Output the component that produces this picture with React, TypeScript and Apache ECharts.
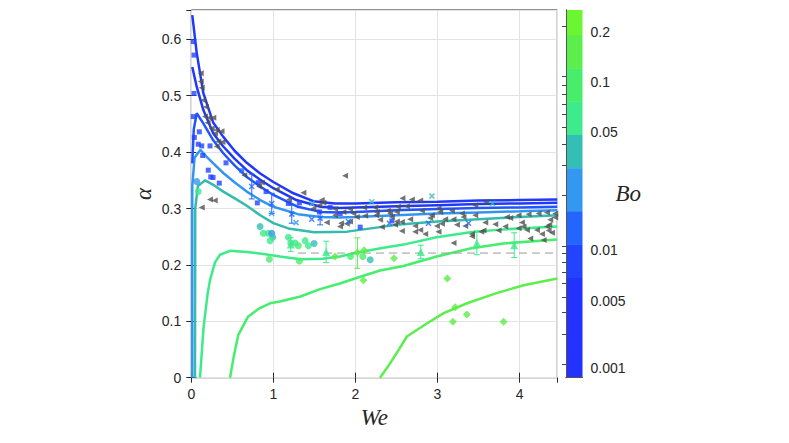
import React, { useEffect, useRef } from 'react';
import * as echarts from 'echarts';

// ---- model curves (We, alpha) ----
const curveA = [[0.012,0.643],[0.066,0.576],[0.146,0.505],[0.268,0.452],[0.39,0.427],[0.53,0.402],[0.676,0.381],[0.84,0.362],[1.0,0.347],[1.244,0.327],[1.488,0.313],[1.75,0.309],[2.0,0.309],[2.5,0.311],[3.0,0.312],[3.5,0.314],[4.0,0.315],[4.46,0.316]];
const curveB = [[0.012,0.551],[0.066,0.516],[0.146,0.475],[0.268,0.433],[0.39,0.41],[0.53,0.388],[0.676,0.368],[0.84,0.351],[1.0,0.336],[1.28,0.315],[1.573,0.303],[1.8,0.301],[2.0,0.302],[2.5,0.304],[3.0,0.306],[3.5,0.308],[4.0,0.309],[4.46,0.31]];
const curveC = [[0.012,0.38],[0.03,0.44],[0.066,0.469],[0.146,0.451],[0.268,0.421],[0.39,0.398],[0.53,0.376],[0.676,0.356],[0.84,0.339],[1.0,0.324],[1.3,0.303],[1.573,0.294],[1.8,0.293],[2.0,0.294],[2.5,0.297],[3.0,0.299],[3.5,0.301],[4.0,0.302],[4.46,0.303]];
const curveD = [[0.012,0],[0.012,0.34],[0.04,0.39],[0.11,0.404],[0.185,0.392],[0.268,0.38],[0.39,0.363],[0.53,0.346],[0.676,0.33],[0.84,0.315],[1.0,0.303],[1.3,0.29],[1.573,0.285],[1.8,0.284],[2.0,0.285],[2.5,0.288],[3.0,0.291],[3.5,0.293],[4.0,0.295],[4.46,0.297]];
const curveE = [[0.045,0],[0.048,0.3],[0.08,0.34],[0.17,0.35],[0.268,0.342],[0.39,0.33],[0.53,0.318],[0.676,0.305],[0.84,0.288],[1.0,0.274],[1.2,0.264],[1.5,0.258],[1.9,0.259],[2.3,0.267],[2.5,0.271],[3.0,0.277],[3.5,0.281],[4.0,0.285],[4.46,0.288]];
const curveG1 = [[0.106,0],[0.15,0.09],[0.2,0.15],[0.228,0.173],[0.29,0.205],[0.35,0.218],[0.472,0.225],[0.675,0.223],[0.9,0.219],[1.08,0.215],[1.33,0.21],[1.6,0.211],[1.81,0.215],[2.0,0.221],[2.29,0.229],[2.585,0.236],[2.99,0.249],[3.4,0.258],[3.8,0.263],[4.46,0.268]];
const curveG2 = [[0.472,0],[0.52,0.04],[0.573,0.076],[0.69,0.108],[0.83,0.123],[0.96,0.132],[1.08,0.135],[1.33,0.144],[1.57,0.157],[1.81,0.167],[2.06,0.179],[2.3,0.19],[2.585,0.198],[2.99,0.215],[3.4,0.229],[3.8,0.238],[4.46,0.245]];
const curveG3 = [[2.3,0],[2.42,0.025],[2.525,0.049],[2.627,0.073],[2.87,0.096],[3.07,0.114],[3.36,0.132],[3.72,0.15],[4.05,0.164],[4.46,0.176]];
const dashedRef = [[1.3,0.221],[4.46,0.221]];

// ---- experimental points ----
const grayTriangles = [[0.115,0.54],[0.115,0.525],[0.127,0.514],[0.146,0.492],[0.179,0.48],[0.167,0.463],[0.216,0.461],[0.268,0.461],[0.198,0.452],[0.249,0.442],[0.31,0.439],[0.368,0.437],[0.289,0.433],[0.329,0.419],[0.38,0.418],[0.31,0.41],[0.228,0.316],[0.285,0.314],[0.127,0.302],[0.646,0.359],[0.859,0.346],[0.826,0.339],[1.041,0.334],[1.366,0.328],[1.874,0.358],[1.191,0.316],[1.59,0.315],[1.61,0.31],[1.561,0.306],[1.488,0.3],[1.752,0.299],[1.854,0.294],[1.935,0.299],[1.976,0.291],[1.752,0.288],[1.651,0.275],[1.826,0.274],[1.895,0.273],[1.935,0.277],[1.813,0.268],[2.017,0.285],[2.106,0.302],[2.118,0.287],[2.24,0.302],[2.261,0.294],[2.253,0.288],[2.301,0.28],[2.395,0.296],[2.423,0.291],[2.444,0.285],[2.322,0.267],[2.505,0.294],[2.505,0.277],[2.573,0.318],[2.688,0.316],[2.789,0.314],[2.517,0.303],[2.627,0.304],[2.81,0.296],[3.012,0.3],[3.033,0.294],[3.176,0.296],[3.46,0.306],[3.59,0.312],[3.298,0.291],[3.317,0.285],[3.195,0.281],[2.932,0.288],[2.911,0.283],[2.667,0.281],[2.566,0.276],[2.484,0.271],[2.728,0.269],[2.789,0.262],[2.728,0.259],[2.85,0.255],[2.566,0.26],[2.993,0.269],[3.054,0.273],[3.012,0.259],[3.094,0.281],[3.237,0.271],[3.338,0.269],[3.46,0.288],[3.582,0.275],[3.704,0.272],[3.744,0.261],[3.561,0.261],[3.42,0.255],[3.195,0.239],[3.42,0.251],[3.533,0.259],[3.826,0.268],[3.846,0.285],[3.887,0.283],[3.988,0.288],[4.11,0.29],[4.232,0.291],[4.334,0.293],[4.435,0.291],[4.029,0.275],[4.049,0.268],[3.988,0.265],[4.09,0.262],[4.13,0.247],[4.212,0.262],[4.273,0.255],[4.293,0.244],[4.334,0.268],[4.354,0.261],[4.395,0.257],[4.374,0.28],[4.435,0.284],[4.362,0.271]];

// [We, alpha, Bo band index]
const squares = [[0.024,0.596,1],[0.033,0.572,1],[0.033,0.504,1],[0.024,0.463,1],[0.098,0.436,1],[0.037,0.426,1],[0.085,0.414,1],[0.127,0.411,1],[0.228,0.411,1],[0.139,0.394,1],[0.207,0.368,1],[0.237,0.356,1],[0.265,0.355,1],[0.341,0.345,1],[0.423,0.381,1],[0.615,0.367,2],[0.817,0.346,1],[0.911,0.33,1],[0.805,0.31,1],[1.183,0.309,1],[1.317,0.31,1],[1.561,0.294,1],[1.691,0.302,1],[1.815,0.291,1],[2.058,0.267,1],[2.444,0.278,1]];
const circles = [[0.066,0.348,3],[0.085,0.33,5],[0.838,0.268,4],[0.878,0.256,5],[0.939,0.256,5],[0.98,0.256,3],[0.993,0.249,4],[0.96,0.243,5],[0.951,0.21,6],[1.183,0.249,5],[1.212,0.239,5],[1.265,0.239,5],[1.305,0.234,6],[1.387,0.243,5],[1.427,0.234,5],[1.497,0.238,4],[1.317,0.207,6],[1.94,0.215,6],[2.09,0.215,6],[2.18,0.209,4]];
const crosses = [[0.737,0.339,2],[0.98,0.309,2],[0.98,0.291,3],[1.224,0.29,2],[1.277,0.275,3],[1.468,0.309,4],[1.468,0.281,2],[1.57,0.283,2],[1.915,0.277,2],[2.2,0.312,4],[2.415,0.274,2],[2.932,0.322,4],[3.67,0.309,4],[2.89,0.274,2],[3.378,0.274,2]];
const trianglesUp = [[1.212,0.236,5],[1.643,0.223,5],[2.797,0.223,5],[3.48,0.239,5],[3.935,0.235,5]];
const diamonds = [[1.752,0.215,7],[2.024,0.222,7],[2.106,0.226,7],[2.098,0.173,7],[2.47,0.212,7],[3.12,0.176,7],[3.216,0.125,7],[3.358,0.112,7],[3.188,0.099,7],[3.805,0.099,7]];
// error bars [We, low, high, Bo band index]
const errorBars = [[0.737,0.317,0.361,2],[0.98,0.291,0.327,2],[1.224,0.274,0.306,2],[1.57,0.271,0.295,2],[1.212,0.224,0.248,5],[1.643,0.204,0.242,5],[2.024,0.194,0.248,7],[2.797,0.211,0.235,5],[3.48,0.218,0.26,5],[3.935,0.213,0.257,5]];

// ---- colour bar ----
const cbBands = [[0,0.271],[0.271,0.361],[0.361,0.453],[0.453,0.57],[0.57,0.66],[0.66,0.75],[0.75,0.842],[0.842,0.932],[0.932,1]];
const cbLabels = ['0.001','0.005','0.01','0.05','0.1','0.2'];
const cbLabelPos = [0.026,0.209,0.347,0.667,0.805,0.941];
const cbTickPos = [0.037,0.119,0.177,0.22,0.258,0.288,0.315,0.338,0.358,0.497,0.577,0.635,0.68,0.716,0.745,0.771,0.796,0.819,0.955];

const palette = ['#2233ff','#2244ff','#2266ff','#3399f0','#33bfb5','#3dea8c','#48ee6a','#5cee4a','#6cf531'];

const AX = '#262626';
const tickFont = { fontFamily: 'Liberation Sans, Arial, sans-serif', fontSize: 14, color: AX };
const nameFont = { fontFamily: 'Liberation Serif, Times New Roman, serif', fontStyle: 'italic', fontSize: 23, color: AX };

function lineSeries(data: number[][], color: string) {
  return {
    type: 'line', data, showSymbol: false, symbol: 'none', smooth: false,
    lineStyle: { color, width: 2.5 }, xAxisIndex: 0, yAxisIndex: 0, z: 2,
  };
}

function buildOption() {
  const errorBarSeries = {
    type: 'custom', xAxisIndex: 0, yAxisIndex: 0, z: 3,
    data: errorBars.map((e) => [e[0], e[1], e[2]]),
    encode: { x: 0, y: [1, 2] },
    renderItem: (params: any, api: any) => {
      const x = api.value(0);
      const p1 = api.coord([x, api.value(1)]);
      const p2 = api.coord([x, api.value(2)]);
      const color = palette[errorBars[params.dataIndex][3]];
      const style = { stroke: color, lineWidth: 1 };
      const h = 3;
      return {
        type: 'group',
        children: [
          { type: 'line', shape: { x1: p1[0], y1: p1[1], x2: p2[0], y2: p2[1] }, style },
          { type: 'line', shape: { x1: p1[0] - h, y1: p1[1], x2: p1[0] + h, y2: p1[1] }, style },
          { type: 'line', shape: { x1: p2[0] - h, y1: p2[1], x2: p2[0] + h, y2: p2[1] }, style },
        ],
      };
    },
  };

  const colourBarSeries = {
    type: 'custom', xAxisIndex: 2, yAxisIndex: 2, z: 2,
    data: cbBands.map((b, i) => [b[0], b[1], i]),
    encode: { y: [0, 1] },
    renderItem: (params: any, api: any) => {
      const lo = api.value(0), hi = api.value(1);
      const p0 = api.coord([0, hi]);
      const p1 = api.coord([1, lo]);
      return {
        type: 'rect',
        shape: { x: p0[0], y: p0[1], width: p1[0] - p0[0], height: p1[1] - p0[1] },
        style: { fill: palette[params.dataIndex] },
      };
    },
  };

  const scatterOf = (pts: number[][], symbol: string, size: number, extra: any = {}) => ({
    type: 'scatter', xAxisIndex: 0, yAxisIndex: 0, symbol, symbolSize: size, z: 4,
    data: pts.map((p) => ({ value: [p[0], p[1]], itemStyle: { color: palette[p[2]] } })),
    ...extra,
  });

  const cbAxisBase = {
    gridIndex: 1, type: 'value', min: 0, max: 1, z: 10,
    axisLine: { show: true, lineStyle: { color: '#555', width: 1 } },
    axisTick: { show: false }, axisLabel: { show: false }, splitLine: { show: false },
  };

  return {
    animation: false,
    grid: [
      { left: 191.3, top: 10, width: 366, height: 367.7, show: true, borderColor: AX, borderWidth: 1, backgroundColor: 'transparent' },
      { left: 566, top: 10, width: 16.5, height: 367.7 },
    ],
    xAxis: [
      {
        gridIndex: 0, type: 'value', min: 0, max: 4.46, interval: 1,
        axisLine: { show: false },
        axisTick: { inside: true, length: 5, lineStyle: { color: AX } },
        axisLabel: { ...tickFont, margin: 9, showMaxLabel: false },
        splitLine: { show: true, lineStyle: { color: '#e3e3e3', width: 1 } },
        name: 'We', nameLocation: 'middle', nameGap: 28, nameMoveOverlap: false, nameTextStyle: nameFont,
      },
      {
        gridIndex: 0, type: 'value', min: 0, max: 4.46, interval: 1, position: 'top',
        axisLine: { show: false }, axisTick: { inside: true, length: 5, lineStyle: { color: AX } },
        axisLabel: { show: false }, splitLine: { show: false },
      },
      { ...cbAxisBase, position: 'bottom' },
      { ...cbAxisBase, position: 'top' },
    ],
    yAxis: [
      {
        gridIndex: 0, type: 'value', min: 0, max: 0.652, interval: 0.1,
        axisLine: { show: false },
        axisTick: { inside: true, length: 5, lineStyle: { color: AX } },
        axisLabel: { ...tickFont, margin: 10, showMaxLabel: false },
        splitLine: { show: true, lineStyle: { color: '#e3e3e3', width: 1 } },
        name: 'α', nameLocation: 'middle', nameGap: 36, nameMoveOverlap: false, nameTextStyle: nameFont,
      },
      {
        gridIndex: 0, type: 'value', min: 0, max: 0.652, interval: 0.1, position: 'right',
        axisLine: { show: false }, axisTick: { inside: true, length: 5, lineStyle: { color: AX } },
        axisLabel: { show: false }, splitLine: { show: false },
      },
      { ...cbAxisBase, position: 'left' },
      {
        ...cbAxisBase, position: 'right',
        axisTick: { show: true, inside: true, length: 4, customValues: cbTickPos, lineStyle: { color: '#444' } },
        axisLabel: {
          show: true, ...tickFont, margin: 8, customValues: cbLabelPos,
          formatter: (v: number) => {
            let best = 0;
            cbLabelPos.forEach((p, i) => { if (Math.abs(p - v) < Math.abs(cbLabelPos[best] - v)) best = i; });
            return cbLabels[best];
          },
        },
        name: 'Bo', nameLocation: 'middle', nameRotate: 0, nameGap: 33, nameMoveOverlap: false, nameTextStyle: nameFont,
      },
    ],
    series: [
      colourBarSeries,
      lineSeries(curveG3, '#5cee4a'),
      lineSeries(curveG2, '#45ee6c'),
      lineSeries(curveG1, '#3deb8a'),
      lineSeries(curveE, '#33bbb0'),
      lineSeries(curveD, '#3396ee'),
      lineSeries(curveC, '#2255fa'),
      lineSeries(curveB, '#2238f8'),
      lineSeries(curveA, '#2238f8'),
      {
        type: 'line', data: dashedRef, showSymbol: false, symbol: 'none', xAxisIndex: 0, yAxisIndex: 0, z: 2,
        lineStyle: { color: '#9a9a9a', width: 1, type: [8, 5] },
      },
      errorBarSeries,
      {
        type: 'scatter', xAxisIndex: 0, yAxisIndex: 0, symbol: 'triangle', symbolRotate: 90, symbolSize: 6, z: 4,
        itemStyle: { color: '#505050' }, data: grayTriangles,
      },
      scatterOf(squares, 'rect', 5),
      scatterOf(circles, 'circle', 7),
      scatterOf(trianglesUp, 'triangle', 8),
      scatterOf(diamonds, 'diamond', 8),
      {
        type: 'scatter', xAxisIndex: 0, yAxisIndex: 0, symbol: 'path://M0,0L10,10M10,0L0,10', symbolSize: 5, z: 4,
        data: crosses.map((p) => ({ value: [p[0], p[1]], itemStyle: { color: 'transparent', borderColor: palette[p[2]], borderWidth: 1.5 } })),
      },
    ],
  };
}

export default function App() {
  const ref = useRef<HTMLDivElement>(null);
  useEffect(() => {
    if (!ref.current) return;
    const chart = echarts.init(ref.current, null, { renderer: 'svg' });
    chart.setOption(buildOption() as any);
    return () => chart.dispose();
  }, []);
  return <div ref={ref} style={{ position: 'fixed', left: 0, top: 0, width: 789, height: 443, background: '#fff' }} />;
}
